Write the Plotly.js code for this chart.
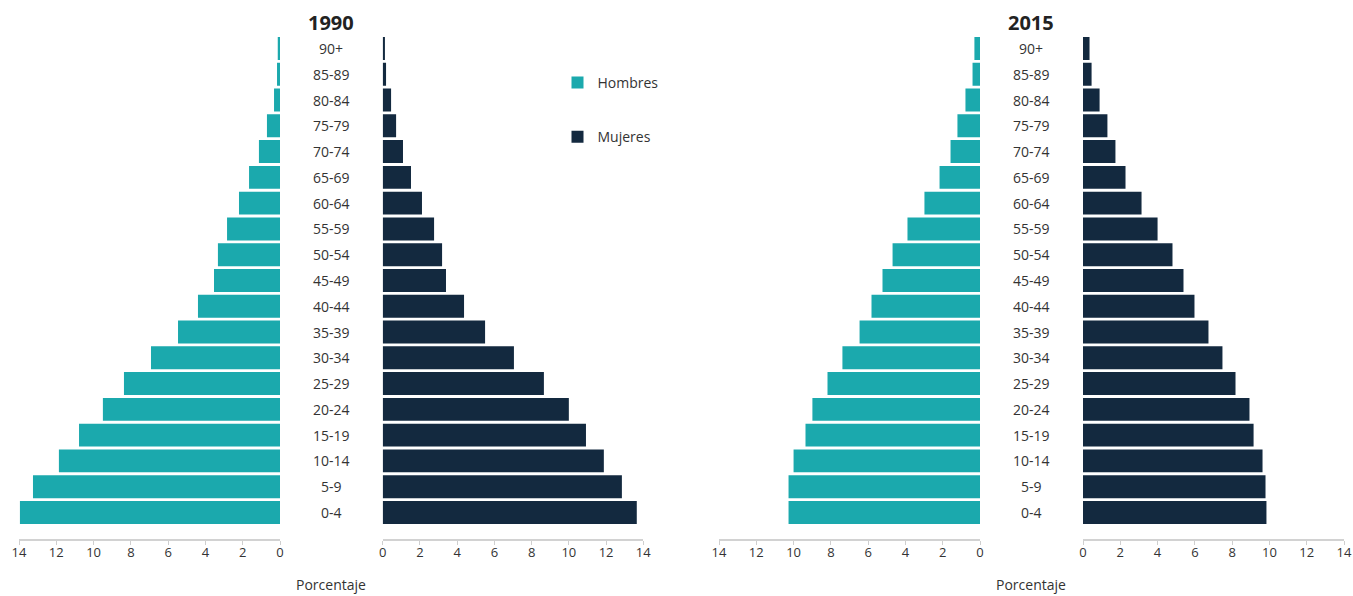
<!DOCTYPE html>
<html>
<head>
<meta charset="utf-8">
<script src="https://cdn.plot.ly/plotly-3.0.1.min.js"></script>
<style>html,body{margin:0;padding:0;background:#fff;}#chart{width:1353px;height:596px;}</style>
</head>
<body>
<div id="chart"></div>
<script>
// Age groups (bottom to top)
const ageGroups = ["0-4","5-9","10-14","15-19","20-24","25-29","30-34","35-39","40-44","45-49","50-54","55-59","60-64","65-69","70-74","75-79","80-84","85-89","90+"];
// Percentages, same order as ageGroups
const hombres1990 = [13.95,13.25,11.86,10.78,9.50,8.37,6.92,5.47,4.40,3.54,3.33,2.84,2.20,1.66,1.13,0.70,0.32,0.16,0.12];
const mujeres1990 = [13.65,12.85,11.88,10.92,10.00,8.66,7.05,5.50,4.37,3.40,3.19,2.76,2.11,1.52,1.09,0.72,0.45,0.18,0.12];
const hombres2015 = [10.27,10.27,10.00,9.36,8.99,8.18,7.38,6.46,5.82,5.23,4.69,3.89,2.98,2.17,1.58,1.21,0.78,0.40,0.30];
const mujeres2015 = [9.84,9.79,9.63,9.15,8.93,8.18,7.48,6.73,5.98,5.39,4.80,4.00,3.14,2.28,1.74,1.31,0.89,0.46,0.35];
const years = ["1990","2015"];
const seriesNames = ["Hombres","Mujeres"];
const tickVals = [0,2,4,6,8,10,12,14];

const colH = "#1BA9AD", colM = "#13293F";
const W = 1353, H = 596;
const px = v => v / W;
const py = v => (H - v) / H;

function bar(vals, name, color, xa, show) {
  return {
    type: "bar", orientation: "h", y: ageGroups, x: vals, name: name,
    marker: {color: color}, xaxis: xa, yaxis: "y",
    legendgroup: name, showlegend: show, hoverinfo: "x+y+name"
  };
}
const data = [
  bar(hombres1990, seriesNames[0], colH, "x", true),
  bar(mujeres1990, seriesNames[1], colM, "x2", true),
  bar(hombres2015, seriesNames[0], colH, "x3", false),
  bar(mujeres2015, seriesNames[1], colM, "x4", false)
];

function xax(domain, reversed) {
  return {
    domain: domain, anchor: "y",
    range: reversed ? [14, 0] : [0, 14], autorange: false,
    tickvals: tickVals, ticks: "outside", ticklen: 4, tickcolor: "#cfcfcf", tickwidth: 1,
    ticklabelstandoff: -3,
    showline: true, linecolor: "#d2d2d2", linewidth: 1.5,
    showgrid: false, zeroline: false,
    tickfont: {family: "Open Sans", size: 13, color: "#333"}, fixedrange: true
  };
}

const centers = [331, 1031];
const annotations = [];
years.forEach((yr, i) => {
  annotations.push({text: "<b>" + yr + "</b>", xref: "paper", yref: "paper", x: px(centers[i]), y: py(22),
    xanchor: "center", yanchor: "middle", showarrow: false, font: {family: "Open Sans", size: 20, color: "#222"}});
  annotations.push({text: "Porcentaje", xref: "paper", yref: "paper", x: px(centers[i]), y: 0,
    xanchor: "center", yanchor: "bottom", showarrow: false, font: {family: "Open Sans", size: 14, color: "#333"}});
  ageGroups.forEach(g => {
    annotations.push({text: g, xref: "paper", yref: "y", x: px(centers[i]), y: g,
      xanchor: "center", yanchor: "middle", showarrow: false, font: {family: "Open Sans", size: 14, color: "#333"}});
  });
});

const layout = {
  width: W, height: H,
  margin: {l: 0, r: 0, t: 0, b: 0, pad: 0},
  paper_bgcolor: "#fff", plot_bgcolor: "#fff",
  barmode: "overlay", bargap: 0.11,
  font: {family: "Open Sans", size: 14, color: "#333"},
  xaxis: xax([px(19), px(280)], true),
  xaxis2: xax([px(382.7), px(643.3)], false),
  xaxis3: xax([px(719), px(980)], true),
  xaxis4: xax([px(1083), px(1344)], false),
  yaxis: {
    domain: [py(539), py(35.6)], type: "category",
    categoryorder: "array", categoryarray: ageGroups,
    range: [-1.03, 18.5], autorange: false, visible: false, fixedrange: true
  },
  showlegend: true,
  legend: {
    x: px(557.5), y: py(67), xanchor: "left", yanchor: "top",
    traceorder: "grouped", tracegroupgap: 33,
    font: {family: "Open Sans", size: 14, color: "#333"},
    bgcolor: "rgba(0,0,0,0)", borderwidth: 0
  },
  annotations: annotations
};

Plotly.newPlot("chart", data, layout, {displayModeBar: false, staticPlot: true});
</script>
</body>
</html>
